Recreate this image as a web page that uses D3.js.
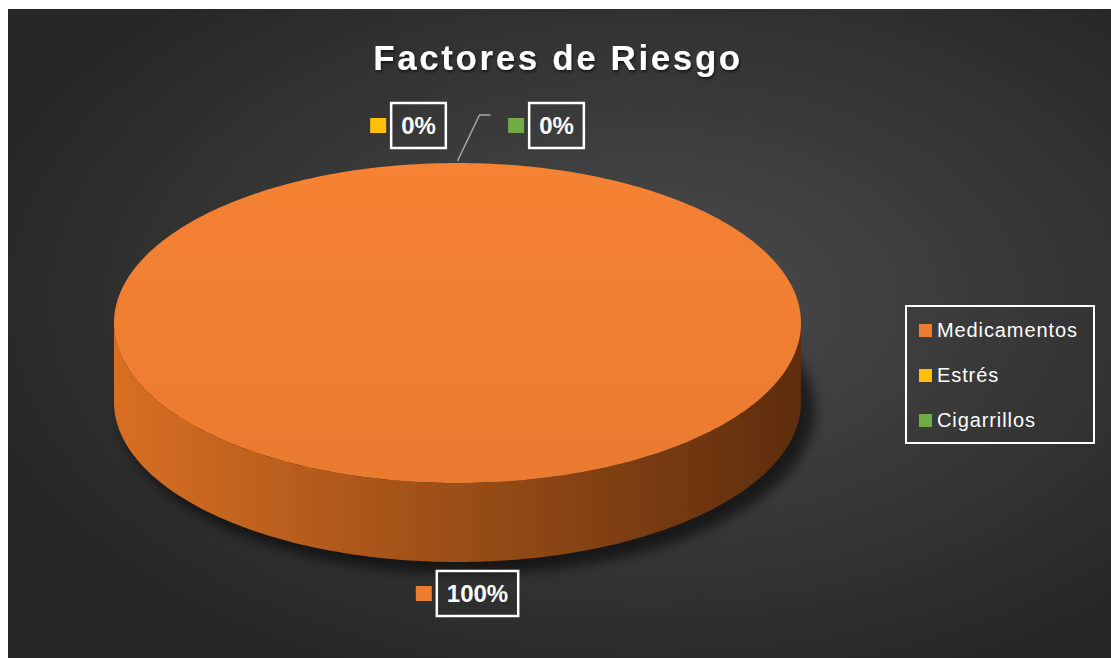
<!DOCTYPE html>
<html>
<head>
<meta charset="utf-8">
<script src="https://cdn.jsdelivr.net/npm/d3@7"></script>
<style>
  body { margin: 0; background: #fff; }
  svg { display: block; }
  text { font-family: "Liberation Sans", Arial, sans-serif; fill: #fff; }
</style>
</head>
<body>
<script>
// data
const categories = ["Medicamentos", "Estrés", "Cigarrillos"];
const values = [100, 0, 0];
const colors = ["#ED7D31", "#FFC000", "#70AD47"];
const sideDark = ["#5e2d0c", "#7a5b00", "#385723"];
const sideLight = ["#d86f22", "#e0a800", "#5d9439"];
const titleText = "Factores de Riesgo";

const W = 1111, H = 658;
const svg = d3.select("body").append("svg").attr("width", W).attr("height", H);
const defs = svg.append("defs");

// background (chart area with white margin on left/top)
const bg = defs.append("radialGradient").attr("id", "bg")
  .attr("cx", "58%").attr("cy", "45%").attr("r", "62%");
bg.append("stop").attr("offset", "0%").attr("stop-color", "#4c4c4c");
bg.append("stop").attr("offset", "100%").attr("stop-color", "#272727");
svg.append("rect").attr("x", 8).attr("y", 9).attr("width", W - 8).attr("height", H - 9)
  .attr("fill", "url(#bg)");

// filters
const sh = defs.append("filter").attr("id", "shadow").attr("x", "-20%").attr("y", "-20%")
  .attr("width", "140%").attr("height", "140%");
sh.append("feGaussianBlur").attr("stdDeviation", 6);
const ts = defs.append("filter").attr("id", "tshadow");
ts.append("feDropShadow").attr("dx", 1).attr("dy", 2).attr("stdDeviation", 1.5)
  .attr("flood-color", "#000").attr("flood-opacity", 0.6);

// title
svg.append("text")
  .attr("x", 558).attr("y", 70)
  .attr("text-anchor", "middle")
  .style("font-size", "35px").style("font-weight", "bold").style("letter-spacing", "2.6px")
  .attr("filter", "url(#tshadow)")
  .text(titleText);

// 3d pie geometry
const cx = 457.5, cy = 323, rx = 343.5, ry = 160, depth = 79;
const px = a => cx + rx * Math.sin(a);
const py = a => cy - ry * Math.cos(a);

const pie = d3.pie().sort(null).value(d => d)(values);

// arc points helper
function arcPts(a0, a1, dy) {
  const n = Math.max(2, Math.ceil(Math.abs(a1 - a0) / 0.02));
  return d3.range(n + 1).map(i => {
    const a = a0 + (a1 - a0) * i / n;
    return [px(a), py(a) + dy];
  });
}

const g = svg.append("g");

// shadow under the pie
g.append("ellipse")
  .attr("cx", cx + 10).attr("cy", cy + depth + 8)
  .attr("rx", rx + 4).attr("ry", ry + 4)
  .attr("fill", "#000").attr("opacity", 0.55)
  .attr("filter", "url(#shadow)");

// side + top gradients
pie.forEach((d, i) => {
  const lg = defs.append("linearGradient").attr("id", "side" + i)
    .attr("gradientUnits", "userSpaceOnUse")
    .attr("x1", cx - rx).attr("x2", cx + rx).attr("y1", 0).attr("y2", 0);
  lg.append("stop").attr("offset", "0%").attr("stop-color", sideLight[i]);
  lg.append("stop").attr("offset", "45%").attr("stop-color", d3.interpolateRgb(sideLight[i], sideDark[i])(0.45));
  lg.append("stop").attr("offset", "100%").attr("stop-color", sideDark[i]);
  const tg = defs.append("linearGradient").attr("id", "top" + i)
    .attr("x1", 0).attr("x2", 0).attr("y1", 0).attr("y2", 1);
  tg.append("stop").attr("offset", "0%").attr("stop-color", d3.color(colors[i]).brighter(0.1));
  tg.append("stop").attr("offset", "100%").attr("stop-color", d3.color(colors[i]).darker(0.05));
});

const line = d3.line();

// outer sides (front half only)
pie.forEach((d, i) => {
  if (d.endAngle - d.startAngle <= 0) return;
  const s = Math.max(d.startAngle, Math.PI / 2);
  const e = Math.min(d.endAngle, 3 * Math.PI / 2);
  if (e <= s) return;
  const top = arcPts(s, e, 0);
  const bot = arcPts(e, s, depth);
  g.append("path").attr("d", line(top.concat(bot)) + "Z").attr("fill", `url(#side${i})`);
});

// top faces
pie.forEach((d, i) => {
  if (d.endAngle - d.startAngle <= 0) return;
  const full = d.endAngle - d.startAngle >= 2 * Math.PI - 1e-6;
  const pts = arcPts(d.startAngle, d.endAngle, 0);
  const p = full ? line(pts) + "Z" : line([[cx, cy]].concat(pts)) + "Z";
  g.append("path").attr("d", p).attr("fill", `url(#top${i})`);
});

// leader line for the zero slices
const topX = px(0), topY = py(0);
svg.append("path")
  .attr("d", line([[topX, topY - 2], [topX + 22, topY - 48], [topX + 33, topY - 48]]))
  .attr("fill", "none").attr("stroke", "#a6a6a6").attr("stroke-width", 1.5);

// data labels
const labelOffsets = [[20, 31], [-39, -38], [99, -38]]; // dx, dy from slice anchor
const fmt = d3.format(".0%");
const total = d3.sum(values);
pie.forEach((d, i) => {
  const mid = (d.startAngle + d.endAngle) / 2;
  const front = Math.cos(mid) < 0;
  const ax = px(mid), ay = py(mid) + (front ? depth : 0);
  const lx = ax + labelOffsets[i][0], ly = ay + labelOffsets[i][1];
  const txt = fmt(values[i] / total);
  const lab = svg.append("g").attr("transform", `translate(${lx},${ly})`);
  const t = lab.append("text").attr("x", 0).attr("y", 9)
    .attr("text-anchor", "middle")
    .style("font-size", "24px").style("font-weight", "bold").text(txt);
  const bw = t.node().getComputedTextLength() + 20;
  lab.insert("rect", "text").attr("x", -bw / 2).attr("y", -22).attr("width", bw).attr("height", 45)
    .attr("fill", "none").attr("stroke", "#fff").attr("stroke-width", 2.5);
  lab.append("rect").attr("x", -bw / 2 - 21).attr("y", -7).attr("width", 16).attr("height", 15)
    .attr("fill", colors[i]);
});

// legend
const legend = svg.append("g").attr("transform", "translate(906,306)");
legend.append("rect").attr("width", 188).attr("height", 137)
  .attr("fill", "none").attr("stroke", "#fff").attr("stroke-width", 2);
const ly = d3.scalePoint().domain(categories).range([24, 114]);
const items = legend.selectAll("g.item").data(categories).join("g")
  .attr("class", "item").attr("transform", d => `translate(13,${ly(d)})`);
items.append("rect").attr("y", -6).attr("width", 13).attr("height", 13)
  .attr("fill", (d, i) => colors[i]);
items.append("text").attr("x", 18).attr("y", 7)
  .style("font-size", "20px").style("letter-spacing", "0.9px")
  .text(d => d);
</script>
</body>
</html>
